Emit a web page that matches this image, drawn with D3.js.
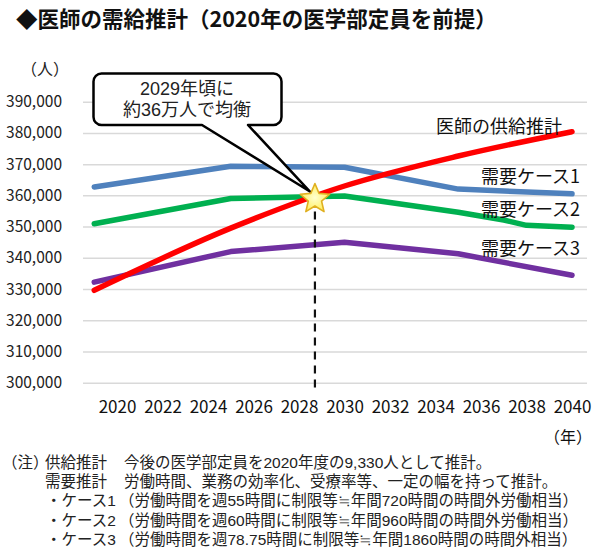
<!DOCTYPE html>
<html lang="ja"><head><meta charset="utf-8">
<script src="https://cdn.jsdelivr.net/npm/d3@7"></script>
<style>
html,body{margin:0;padding:0;background:#fff;}
svg text{font-family:"Noto Sans CJK JP","Noto Sans",sans-serif;}
svg text.tight{font-family:"Liberation Sans","Noto Sans CJK JP",sans-serif;}
</style></head>
<body>
<svg id="c" width="600" height="557"></svg>
<script>
// ---- data ----
const title = "◆医師の需給推計（2020年の医学部定員を前提）";
const yTicks = [300000,310000,320000,330000,340000,350000,360000,370000,380000,390000];
const xTicks = [2020,2022,2024,2026,2028,2030,2032,2034,2036,2038,2040];
const supplyYears = [2019,2025,2030,2035,2040];
const supplyVals  = [329600,349500,363000,372600,380400];
const case1Years = [2019,2025,2030,2035,2040];
const case1Vals  = [362700,369300,369000,362000,360500];
const case2Years = [2019,2025,2030,2035,2037,2038,2040];
const case2Vals  = [350900,359000,359800,354600,352100,350400,349800];
const case3Years = [2019,2025,2030,2035,2040];
const case3Vals  = [332200,342000,345000,341300,334400];
const seriesNames = ["医師の供給推計","需要ケース1","需要ケース2","需要ケース3"];
const balanceYear = 2028.7, balanceValue = 359300;
const calloutLines = ["2029年頃に","約36万人で均衡"];
const notes = [
  ["（注）","供給推計","今後の医学部定員を2020年度の9,330人として推計。"],
  ["","需要推計","労働時間、業務の効率化、受療率等、一定の幅を持って推計。"],
  ["","・ケース1","（労働時間を週55時間に制限等≒年間720時間の時間外労働相当）"],
  ["","・ケース2","（労働時間を週60時間に制限等≒年間960時間の時間外労働相当）"],
  ["","・ケース3","（労働時間を週78.75時間に制限等≒年間1860時間の時間外相当）"]
];

const svg = d3.select("#c");
const x = d3.scaleLinear().domain([2020,2040]).range([117,572]);
const y = d3.scaleLinear().domain([300000,390000]).range([382.7,101.7]);
const gridL = 83, gridR = 587;

// title
svg.append("text").attr("x",16).attr("y",17).attr("dominant-baseline","central")
  .attr("font-size",21.5).attr("font-weight","bold").attr("fill","#111").text(title);

// y axis + grid
const ya = svg.append("g").attr("transform",`translate(${gridL},0)`)
  .call(d3.axisLeft(y).tickValues(yTicks).tickFormat(d3.format(",")).tickSize(-(gridR-gridL)).tickPadding(21));
ya.select(".domain").remove();
ya.selectAll(".tick line").attr("stroke","#d9d9d9").attr("stroke-width",1.5);
ya.selectAll(".tick text").attr("font-size",15.5).attr("fill","#222")
  .style("font-family","'Noto Sans CJK JP',sans-serif");
svg.append("text").attr("x",21).attr("y",68).attr("dominant-baseline","central")
  .attr("font-size",16).attr("fill","#222").text("（人）");

// x axis
const xa = svg.append("g").attr("transform",`translate(0,${y(300000)})`)
  .call(d3.axisBottom(x).tickValues(xTicks).tickFormat(d3.format("d")).tickSize(0).tickPadding(18.5));
xa.select(".domain").remove();
xa.selectAll(".tick text").attr("font-size",17).attr("fill","#111")
  .style("font-family","'Noto Sans CJK JP',sans-serif");
svg.append("text").attr("x",592).attr("y",436).attr("text-anchor","end").attr("dominant-baseline","central")
  .attr("font-size",16).attr("fill","#111").text("（年）");

// lines
const line = d3.line().x(d=>x(d[0])).y(d=>y(d[1]));
function draw(years, vals, color, curve){
  svg.append("path").datum(d3.zip(years, vals)).attr("d",line.curve(curve||d3.curveLinear))
    .attr("fill","none").attr("stroke",color).attr("stroke-width",5.5)
    .attr("stroke-linecap","round").attr("stroke-linejoin","round");
}
draw(case1Years, case1Vals, "#4f81bd");
draw(case2Years, case2Vals, "#00b050");
draw(case3Years, case3Vals, "#7030a0");
draw(supplyYears, supplyVals, "#ff0000", d3.curveMonotoneX);

// series labels
const labelPos = [[562,125],[580,175],[580,208],[580,246.5]];
seriesNames.forEach((n,i)=>{
  svg.append("text").attr("x",labelPos[i][0]).attr("y",labelPos[i][1])
    .attr("text-anchor","end").attr("dominant-baseline","central")
    .attr("font-size",18).attr("fill","#111").text(n);
});

// dashed line
const sx = x(balanceYear), sy = y(balanceValue);
svg.append("line").attr("x1",sx).attr("x2",sx).attr("y1",sy).attr("y2",y(300000)+6)
  .attr("stroke","#111").attr("stroke-width",2.2).attr("stroke-dasharray","8,6");

// callout
const bx0=93.5,bx1=281.5,by0=73.5,by1=125,r=8;
const t1=202,t2=248,tipx=sx-5,tipy=sy-6;
const p = `M${bx0+r},${by0} H${bx1-r} A${r},${r} 0 0 1 ${bx1},${by0+r} V${by1-r} A${r},${r} 0 0 1 ${bx1-r},${by1} H${t2} L${tipx},${tipy} L${t1},${by1} H${bx0+r} A${r},${r} 0 0 1 ${bx0},${by1-r} V${by0+r} A${r},${r} 0 0 1 ${bx0+r},${by0} Z`;
svg.append("path").attr("d",p).attr("fill","#fff").attr("stroke","#000").attr("stroke-width",2.5).attr("stroke-linejoin","round");
calloutLines.forEach((t,i)=>{
  svg.append("text").attr("class","tight").attr("x",187).attr("y",89+i*21).attr("text-anchor","middle")
    .attr("dominant-baseline","central").attr("font-size",18).attr("fill","#222").text(t);
});

// star
const defs = svg.append("defs");
const g = defs.append("radialGradient").attr("id","sg");
g.append("stop").attr("offset","0%").attr("stop-color","#ffffd0");
g.append("stop").attr("offset","100%").attr("stop-color","#fff060");
const R=15.5, ri=7;
const pts = d3.range(10).map(i=>{
  const a = -Math.PI/2 + i*Math.PI/5, rr = i%2?ri:R;
  return [sx+rr*Math.cos(a), sy+1.5+rr*Math.sin(a)];
});
svg.append("path").attr("d","M"+pts.map(p=>p.join(",")).join("L")+"Z")
  .attr("fill","url(#sg)").attr("stroke","#e0b020").attr("stroke-width",1.6).attr("stroke-linejoin","round");

// notes
const ny = [462,481,500.5,520,539.5];
notes.forEach((row,i)=>{
  if(row[0]) svg.append("text").attr("class","tight").attr("x",2).attr("y",ny[i]).attr("dominant-baseline","central").attr("font-size",15.5).attr("fill","#222").text(row[0]);
  svg.append("text").attr("class","tight").attr("x",i<2?45:46).attr("y",ny[i]).attr("dominant-baseline","central").attr("font-size",15.5).attr("fill","#222").text(row[1]);
  svg.append("text").attr("class","tight").attr("x",i<2?124:119).attr("y",ny[i]).attr("dominant-baseline","central").attr("font-size",15.5).attr("fill","#222").text(row[2]);
});
</script>
</body></html>
